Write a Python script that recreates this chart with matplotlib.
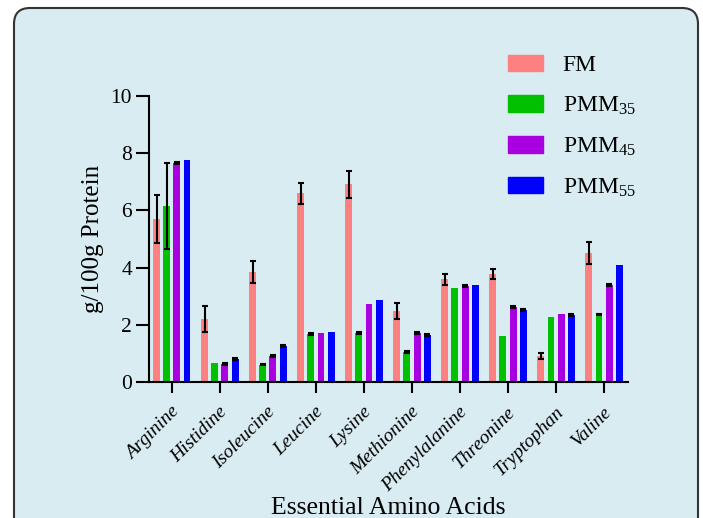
import numpy as np
import matplotlib
matplotlib.use("Agg")
import matplotlib.pyplot as plt
from matplotlib.patches import FancyBboxPatch, Patch
import matplotlib.transforms as mtransforms

plt.rcParams["font.family"] = ["Liberation Serif", "DejaVu Serif"]
plt.rcParams["mathtext.default"] = "regular"
SERIF = "Liberation Serif"

acids = ["Arginine", "Histidine", "Isoleucine", "Leucine", "Lysine",
         "Methionine", "Phenylalanine", "Threonine", "Tryptophan", "Valine"]
series = ["FM", "PMM$_{35}$", "PMM$_{45}$", "PMM$_{55}$"]
colors = ["#ff8080", "#00c000", "#a800e0", "#0000ff"]

fm = [5.70, 2.21, 3.85, 6.60, 6.92, 2.49, 3.60, 3.78, 0.92, 4.51]
pmm35 = [6.15, 0.67, 0.62, 1.69, 1.72, 1.06, 3.29, 1.62, 2.28, 2.37]
pmm45 = [7.66, 0.64, 0.93, 1.72, 2.73, 1.73, 3.36, 2.63, 2.38, 3.40]
pmm55 = [7.76, 0.81, 1.27, 1.76, 2.87, 1.66, 3.40, 2.53, 2.35, 4.09]

fm_err = [0.84, 0.47, 0.37, 0.37, 0.47, 0.29, 0.19, 0.19, 0.10, 0.38]
pmm35_err = [1.50, 0, 0.03, 0.03, 0.03, 0.03, 0, 0, 0, 0.03]
pmm45_err = [0.03, 0.03, 0.03, 0, 0, 0.03, 0.03, 0.03, 0, 0.03]
pmm55_err = [0, 0.03, 0.03, 0, 0, 0.03, 0, 0.03, 0.03, 0]

values = [fm, pmm35, pmm45, pmm55]
errors = [fm_err, pmm35_err, pmm45_err, pmm55_err]

fig = plt.figure(figsize=(7.03, 5.18), dpi=100)
fig.patch.set_facecolor("white")

# rounded panel behind the chart
panel = FancyBboxPatch((14, -40), 684, 550, boxstyle="round,pad=0,rounding_size=16",
                       facecolor="#d8ecf1", edgecolor="#333333",
                       linewidth=1.5, zorder=-5)
panel.set_transform(mtransforms.IdentityTransform())
fig.patches.append(panel)

ax = fig.add_axes([0.2124, 0.262, 0.681, 0.553])
ax.set_facecolor("none")
ax.set_zorder(2)

x = np.arange(len(acids))
step = 0.21
width = 0.145
for i in range(4):
    pos = x + (i - 1.5) * step
    ax.bar(pos, values[i], width, color=colors[i], label=series[i], zorder=2)
    err = np.array(errors[i])
    m = err > 0
    ax.errorbar(pos[m], np.array(values[i])[m], yerr=err[m], fmt="none",
                ecolor="black", elinewidth=1.5, capsize=2, capthick=1.5, zorder=3)

ax.set_xlim(-0.47, 9.5)
ax.set_ylim(0, 10)
ax.set_yticks([0, 2, 4, 6, 8, 10])
ax.set_yticklabels(["0", "2", "4", "6", "8", "10"], fontfamily=SERIF, fontsize=15.5)
ax.set_xticks(x)
ax.set_xticklabels([])

# rotated italic category labels, right end just below each tick
lab_tr = ax.get_xaxis_transform() + mtransforms.ScaledTranslation(
    5 / 100, -27 / 100, fig.dpi_scale_trans)
for xi, name in zip(x, acids):
    ax.text(xi, 0, name, transform=lab_tr, rotation=45, rotation_mode="anchor",
            ha="right", va="center", fontstyle="italic", fontfamily=SERIF,
            fontsize=14)

for s in ["top", "right"]:
    ax.spines[s].set_visible(False)
for s in ["left", "bottom"]:
    ax.spines[s].set_linewidth(1.5)
ax.tick_params(axis="y", length=9.5, width=1.5, pad=3)
ax.tick_params(axis="x", length=8, width=1.5, pad=6)

ax.set_ylabel("g/100g Protein", fontfamily=SERIF, fontsize=18, labelpad=5)
ax.set_xlabel("Essential Amino Acids", fontfamily=SERIF, fontsize=18.5, va="top")
ax.xaxis.set_label_coords(0.5, -0.40)

handles = [Patch(color=c) for c in colors]
fig.legend(handles, series, loc="upper left", bbox_to_anchor=(0.693, 0.935),
           frameon=False, prop={"family": SERIF, "size": 17}, handlelength=1.45,
           handleheight=0.7, handletextpad=0.85, labelspacing=0.78)

fig.savefig("out.png", dpi=100)
